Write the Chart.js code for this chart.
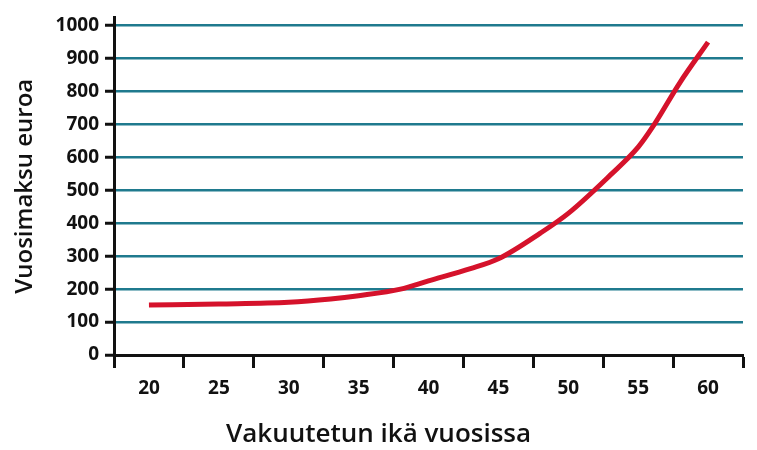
<!DOCTYPE html>
<html>
<head>
<meta charset="utf-8">
<script src="https://cdn.jsdelivr.net/npm/chart.js@4/dist/chart.umd.min.js"></script>
<style>
    html, body { margin: 0; padding: 0; background: #fff; }
    #wrap { width: 757px; height: 450px; }
</style>
</head>
<body>
<div id="wrap"><canvas id="premiumChart"></canvas></div>
<script>
// Annual premium by age of the insured
const ages = [20, 25, 30, 33, 35, 38, 40, 43, 45, 48, 50, 53, 55, 56, 58, 60];
const premiums = [152, 155, 160, 170, 180, 200, 225, 262, 292, 370, 430, 546, 631, 690, 828, 950];

const yTickValues = [0, 100, 200, 300, 400, 500, 600, 700, 800, 900, 1000];
const xMarkValues = [17.5, 22.5, 27.5, 32.5, 37.5, 42.5, 47.5, 52.5, 57.5, 62.5];

const gridTeal = '#1f7a8e';
const ink = '#111111';

document.addEventListener('DOMContentLoaded', () => {
    const ctx = document.getElementById('premiumChart').getContext('2d');

    new Chart(ctx, {
        type: 'line',
        data: {
            datasets: [{
                label: 'Vuosimaksu',
                data: ages.map((a, i) => ({ x: a, y: premiums[i] })),
                borderColor: '#d5122b',
                borderWidth: 5,
                pointRadius: 0,
                cubicInterpolationMode: 'monotone',
                fill: false
            }]
        },
        options: {
            responsive: true,
            maintainAspectRatio: false,
            animation: false,
            layout: { padding: { top: 13, right: 14, bottom: 0, left: 14 } },
            plugins: {
                legend: { display: false },
                tooltip: { enabled: false },
                // x axis caption, centred under the whole figure
                title: {
                    display: true,
                    position: 'bottom',
                    text: 'Vakuutetun ikä vuosissa',
                    color: ink,
                    padding: { top: 0, bottom: 2 },
                    font: { family: 'Open Sans', size: 26, weight: '600', lineHeight: 1 }
                }
            },
            scales: {
                x: {
                    type: 'linear',
                    min: 17.5,
                    max: 62.5,
                    afterBuildTicks: (scale) => {
                        scale.ticks = xMarkValues.map(v => ({ value: v }));
                    },
                    afterFit: (scale) => { scale.height = 67; },
                    border: { color: ink, width: 3 },
                    grid: {
                        drawOnChartArea: false,
                        tickLength: 13,
                        tickColor: ink,
                        tickWidth: 3
                    },
                    ticks: {
                        // labels sit between the tick marks
                        callback: (v) => v + 2.5 <= 60 ? String(v + 2.5) : '',
                        labelOffset: 35,
                        maxRotation: 0,
                        autoSkip: false,
                        padding: 9,
                        color: ink,
                        font: { family: 'Open Sans', size: 19, weight: 'bold' }
                    }
                },
                y: {
                    min: 0,
                    max: 1025,
                    afterBuildTicks: (scale) => {
                        scale.ticks = yTickValues.map(v => ({ value: v }));
                    },
                    afterFit: (scale) => { scale.width = 100; },
                    border: { color: ink, width: 3 },
                    grid: {
                        color: gridTeal,
                        lineWidth: 2.5,
                        tickLength: 9,
                        tickColor: ink,
                        tickWidth: 3
                    },
                    ticks: {
                        callback: (v) => String(v),
                        padding: 6,
                        color: ink,
                        font: { family: 'Open Sans', size: 19, weight: 'bold' }
                    },
                    title: {
                        display: true,
                        text: 'Vuosimaksu euroa',
                        color: ink,
                        padding: { top: -1, bottom: 0 },
                        font: { family: 'Open Sans', size: 24, weight: '600', lineHeight: 1 }
                    }
                }
            }
        }
    });
});
</script>
</body>
</html>
